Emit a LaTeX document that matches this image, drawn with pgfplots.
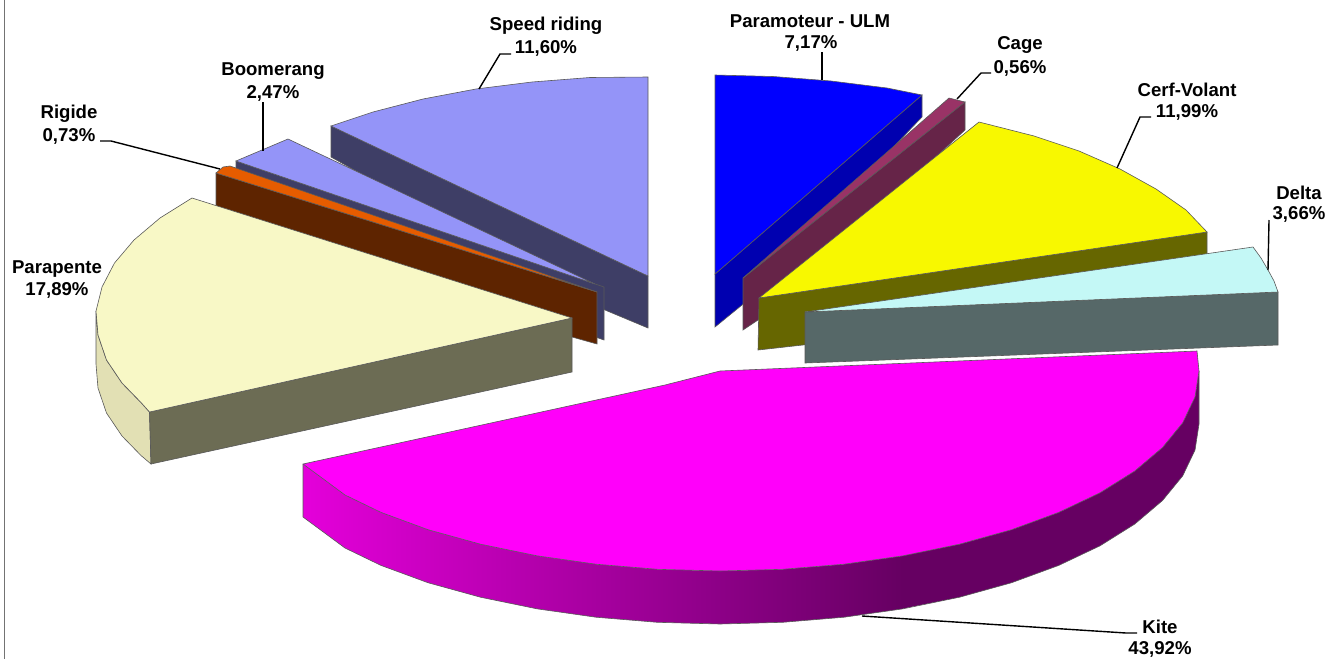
\documentclass[border=0pt]{standalone}
\usepackage{fontspec}
\setmainfont{Liberation Sans}
\usepackage{pgfplots}
\pgfplotsset{compat=1.18}

\definecolor{speedT}{HTML}{9494F8}
\definecolor{speedS}{HTML}{3E3E66}
\definecolor{rigT}{HTML}{E65C00}
\definecolor{rigS}{HTML}{5E2400}
\definecolor{paraT}{HTML}{F8F8C6}
\definecolor{paraF}{HTML}{6C6C54}
\definecolor{paraS}{HTML}{E2E0B4}
\definecolor{motT}{HTML}{0000FF}
\definecolor{motS}{HTML}{0000B0}
\definecolor{cageT}{HTML}{993366}
\definecolor{cageS}{HTML}{662448}
\definecolor{cerfT}{HTML}{F8F800}
\definecolor{cerfS}{HTML}{666600}
\definecolor{deltaT}{HTML}{C4F8F6}
\definecolor{deltaS}{HTML}{566868}
\definecolor{kiteT}{HTML}{FF00FA}
\definecolor{kiteA}{HTML}{E400DA}
\definecolor{kiteB}{HTML}{660062}

\tikzset{
  slice/.style={draw=black!65, line width=0.3pt},
  leader/.style={black, line width=0.7pt},
  lab/.style={font=\fontsize{9.3}{11}\selectfont\bfseries, inner sep=0pt, anchor=center},
}

\begin{document}
\begin{tikzpicture}
\begin{axis}[
    name=pie,
    scale only axis,
    width=665.5pt, height=329.5pt,
    xmin=0, xmax=1331,
    ymin=0, ymax=659,
    y dir=reverse,
    hide axis,
    clip=false,
    no markers,
]
% frame line on the left
\addplot[black!55, line width=0.9pt] coordinates {(4.5,0)(4.5,659)};

% speed riding
\addplot[slice, fill=speedS] coordinates {(331,126)(648,276)(648,328)(605,310)(331,157)} --cycle;
\addplot[slice, fill=speedT] coordinates {(648,77)(590,77.5)(532,82)(476,89)(423,99)(373,112)(331,126)(648,276)} --cycle;

% boomerang
\addplot[slice, fill=speedS] coordinates {(236,161)(604,287)(604,340)(590,335)(236,172)} --cycle;
\addplot[slice, fill=speedT] coordinates {(236,161)(288,139)(595,284)} --cycle;

% rigide
\addplot[slice, fill=rigS] coordinates {(216,173)(597,292)(597,344)(572,337)(216,207)} --cycle;
\addplot[slice, fill=rigT] coordinates {(216,173)(223,167)(230,166)(597,292)} --cycle;

% parapente
\addplot[slice, fill=paraS] coordinates {(96,311)(96,364)(98,388)(106.5,413)(122,436)(141,455.5)(151,464)(149.5,412)(141,402.5)(122,383)(106.5,360)(98,335)} --cycle;
\addplot[slice, fill=paraF] coordinates {(149.5,412)(572,318)(572,372)(151,464)} --cycle;
\addplot[slice, fill=paraT] coordinates {(192,198)(160,218)(134,240)(114.5,263)(102,287)(96,311)(98,335)(106.5,360)(122,383)(141,402.5)(149.5,412)(572,318)} --cycle;

% paramoteur
\addplot[slice, fill=motS] coordinates {(922,95)(922,117)(742,305)(715,327)(715,274)} --cycle;
\addplot[slice, fill=motT] coordinates {(715,75)(773,76.5)(831,81)(887,88)(922,95)(715,274)} --cycle;

% cage
\addplot[slice, fill=cageS] coordinates {(965,102)(965,130)(758,320)(743,330)(743,278)} --cycle;
\addplot[slice, fill=cageT] coordinates {(949,98)(965,102)(743,278)} --cycle;

% cerf-volant
\addplot[slice, fill=cerfS] coordinates {(759,298)(1207,232)(1207,300)(758,350)} --cycle;
\addplot[slice, fill=cerfT] coordinates {(979,122)(1034,136)(1079,151)(1120,169)(1156,189)(1186,210)(1207,232)(759,298)} --cycle;

% delta
\addplot[slice, fill=deltaS] coordinates {(805,312)(1278,292)(1278,345)(805,363)} --cycle;
\addplot[slice, fill=deltaT] coordinates {(805,312)(1253,247)(1261,258)(1268,270)(1274,281)(1278,292)} --cycle;

% kite, side in two parts for the gradient
\addplot[draw=none, left color=kiteA, right color=kiteB] coordinates {(303,464)(322,478)(345,495)(381,512.4)(428,529.7)(480.5,544.2)(537,555.8)(596,564.2)(657.5,569.3)(720,571)(782.5,569.3)(844,564.2)(903,555.8)(903,608.8)(844,617.2)(782.5,622.3)(720,624)(657.5,622.3)(596,617.2)(537,608.8)(480.5,597.2)(428,582.7)(381,565.4)(345,548)(322,531)(303,517)} --cycle;
\addplot[draw=none, fill=kiteB] coordinates {(902,555.8)(959.5,544.2)(1011.6,529.7)(1058.7,512.4)(1100,492.8)(1134.8,471)(1162.5,447.5)(1182.7,422.8)(1195,397)(1199,371)(1199,424)(1195,450)(1182.7,475.8)(1162.5,500.5)(1134.8,524)(1100,545.8)(1058.7,565.4)(1011.6,582.7)(959.5,597.2)(902,608.8)} --cycle;
\addplot[black!65, line width=0.3pt] coordinates {(303,464)(303,517)(322,531)(345,548)(381,565.4)(428,582.7)(480.5,597.2)(537,608.8)(596,617.2)(657.5,622.3)(720,624)(782.5,622.3)(844,617.2)(903,608.8)(959.5,597.2)(1011.6,582.7)(1058.7,565.4)(1100,545.8)(1134.8,524)(1162.5,500.5)(1182.7,475.8)(1195,450)(1199,424)(1199,371)};
\addplot[slice, fill=kiteT] coordinates {(303,464)(665,385)(720,371)(1197,351)(1199,371)(1195,397)(1182.7,422.8)(1162.5,447.5)(1134.8,471)(1100,492.8)(1058.7,512.4)(1011.6,529.7)(959.5,544.2)(903,555.8)(844,564.2)(782.5,569.3)(720,571)(657.5,569.3)(596,564.2)(537,555.8)(480.5,544.2)(428,529.7)(381,512.4)(345,495)(322,478)} --cycle;

% leader lines
\addplot[leader] coordinates {(511,54)(500,54)(479,89)};
\addplot[leader] coordinates {(263,102)(263,151)};
\addplot[leader] coordinates {(100,141)(111,141)(220,169)};
\addplot[leader] coordinates {(822,52)(822,80)};
\addplot[leader] coordinates {(991,73)(981,73)(957,99)};
\addplot[leader] coordinates {(1151,117)(1140,117)(1117,168)};
\addplot[leader] coordinates {(1269,220)(1268,270)};
\addplot[leader] coordinates {(1137,633)(1126,633)(862,616)};

% labels
\node[lab] at (axis cs:546,26) {Speed riding};
\node[lab] at (axis cs:546,48) {11,60\%};
\node[lab] at (axis cs:273,71) {Boomerang};
\node[lab] at (axis cs:273,93) {2,47\%};
\node[lab] at (axis cs:69,114) {Rigide};
\node[lab] at (axis cs:69,136) {0,73\%};
\node[lab] at (axis cs:57,269) {Parapente};
\node[lab] at (axis cs:57,290) {17,89\%};
\node[lab] at (axis cs:810,21) {Paramoteur - ULM};
\node[lab] at (axis cs:811,43) {7,17\%};
\node[lab] at (axis cs:1020,45) {Cage};
\node[lab] at (axis cs:1020,68) {0,56\%};
\node[lab] at (axis cs:1187,90) {Cerf-Volant};
\node[lab] at (axis cs:1187,112) {11,99\%};
\node[lab] at (axis cs:1299,193) {Delta};
\node[lab] at (axis cs:1299,214) {3,66\%};
\node[lab] at (axis cs:1160,627) {Kite};
\node[lab] at (axis cs:1160,649) {43,92\%};
\end{axis}
\pgfresetboundingbox
\path[use as bounding box] (pie.south west) rectangle (pie.north east);
\end{tikzpicture}
\end{document}
